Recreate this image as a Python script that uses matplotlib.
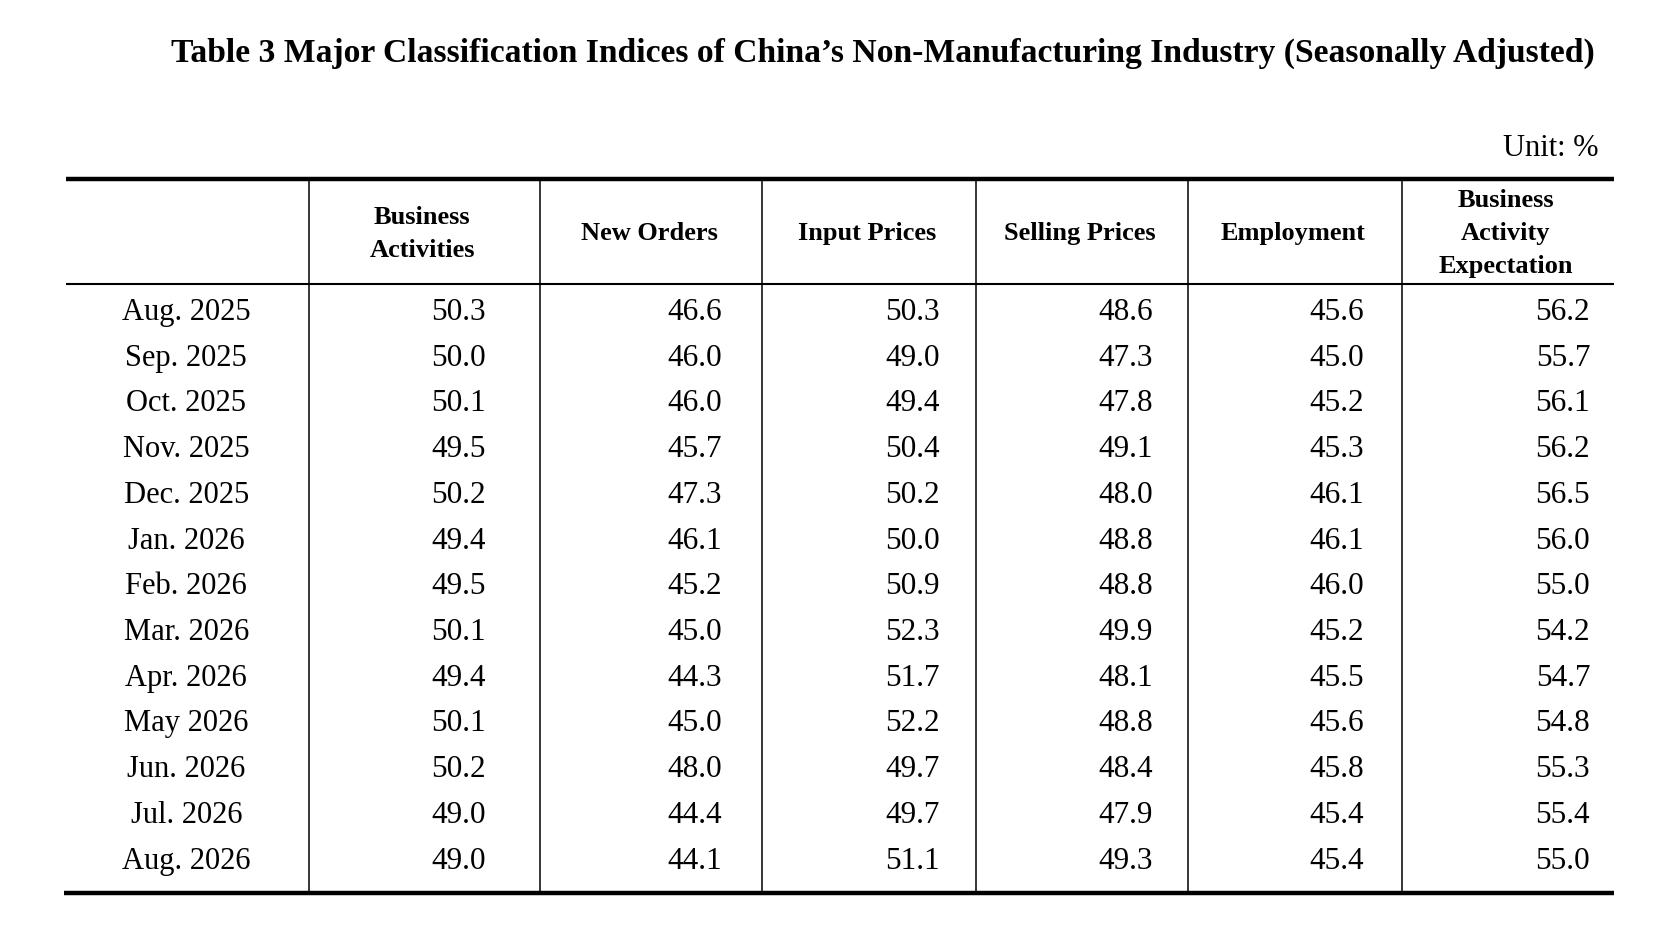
import matplotlib.pyplot as plt

months = ["Aug. 2025", "Sep. 2025", "Oct. 2025", "Nov. 2025", "Dec. 2025",
          "Jan. 2026", "Feb. 2026", "Mar. 2026", "Apr. 2026", "May 2026",
          "Jun. 2026", "Jul. 2026", "Aug. 2026"]
headers = ["Business\nActivities", "New Orders", "Input Prices",
           "Selling Prices", "Employment", "Business\nActivity\nExpectation"]

business_activities = [50.3, 50.0, 50.1, 49.5, 50.2, 49.4, 49.5, 50.1, 49.4, 50.1, 50.2, 49.0, 49.0]
new_orders = [46.6, 46.0, 46.0, 45.7, 47.3, 46.1, 45.2, 45.0, 44.3, 45.0, 48.0, 44.4, 44.1]
input_prices = [50.3, 49.0, 49.4, 50.4, 50.2, 50.0, 50.9, 52.3, 51.7, 52.2, 49.7, 49.7, 51.1]
selling_prices = [48.6, 47.3, 47.8, 49.1, 48.0, 48.8, 48.8, 49.9, 48.1, 48.8, 48.4, 47.9, 49.3]
employment = [45.6, 45.0, 45.2, 45.3, 46.1, 46.1, 46.0, 45.2, 45.5, 45.6, 45.8, 45.4, 45.4]
expectation = [56.2, 55.7, 56.1, 56.2, 56.5, 56.0, 55.0, 54.2, 54.7, 54.8, 55.3, 55.4, 55.0]

columns = [business_activities, new_orders, input_prices,
           selling_prices, employment, expectation]

plt.rcParams['font.family'] = ['Liberation Serif', 'DejaVu Serif']

fig = plt.figure(figsize=(16.6, 9.48), dpi=100)
ax = fig.add_axes([0, 0, 1, 1])
W, H = 1568, 895
ax.set_xlim(0, W)
ax.set_ylim(H, 0)
ax.axis('off')

# layout (pixel units of the reference)
left, right = 62, 1525
col_edges = [292, 510, 720, 922, 1122, 1324, right]
num_right = [459, 682, 888, 1089, 1288, 1502]   # where the numbers end
top_y, head_y, bot_y = 169, 268, 843
row0, row_h = 295, (813 - 295) / 12

ax.text(834, 50, "Table 3 Major Classification Indices of China\u2019s Non-Manufacturing Industry (Seasonally Adjusted)",
        ha='center', va='center', fontsize=24.2, fontweight='bold')
ax.text(1510, 140, "Unit: %", ha='right', va='center', fontsize=22)

ax.plot([left, right], [top_y, top_y], color='black', lw=3.2, solid_capstyle='butt')
ax.plot([left, right], [head_y, head_y], color='black', lw=1.5, solid_capstyle='butt')
ax.plot([left - 2, right], [bot_y, bot_y], color='black', lw=3.2, solid_capstyle='butt')
for x in col_edges[:-1]:
    ax.plot([x, x], [top_y, bot_y], color='black', lw=1.1)

# header
for j, h in enumerate(headers):
    cx = (col_edges[j] + col_edges[j + 1]) / 2
    ax.text(cx - 2, (top_y + head_y) / 2 + 2, h, ha='center', va='center',
            fontsize=19, fontweight='bold', linespacing=1.55)

# body
for i, m in enumerate(months):
    y = row0 + i * row_h
    ax.text(176, y, m, ha='center', va='center', fontsize=22)
    for j, col in enumerate(columns):
        ax.text(num_right[j], y, f"{col[i]:.1f}", ha='right',
                va='center', fontsize=22.5)

fig.savefig("out.png", dpi=100, facecolor='white')
